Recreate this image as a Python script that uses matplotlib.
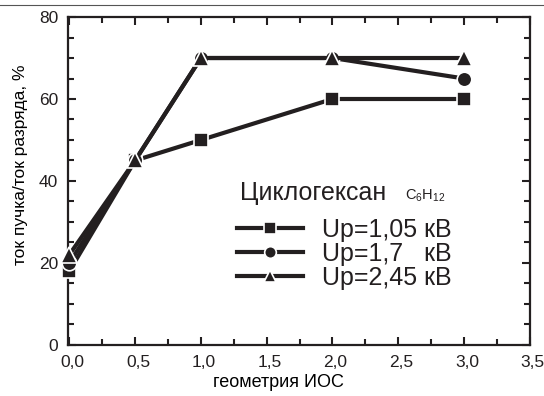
import matplotlib
matplotlib.use("Agg")
import matplotlib.pyplot as plt
from matplotlib.lines import Line2D
from matplotlib.ticker import MultipleLocator, FuncFormatter
from matplotlib.transforms import ScaledTranslation

plt.rcParams['font.family'] = ['Liberation Sans', 'DejaVu Sans']

# геометрия ИОС vs отношение тока пучка к току разряда
geometry = [0.0, 0.5, 1.0, 2.0, 3.0]
ratio_105 = [18, 45, 50, 60, 60]
ratio_17 = [20, 45, 70, 70, 65]
ratio_245 = [22, 45, 70, 70, 70]

labels = ['Up=1,05 кВ', 'Up=1,7   кВ', 'Up=2,45 кВ']
markers = ['s', 'o', '^']
sizes = [10, 10.5, 11.5]
dark = '#231f20'

fig = plt.figure(figsize=(5.44, 3.96), dpi=100)
ax = fig.add_axes([0.125, 0.129, 0.849, 0.828])

handles = []
for ys, m, ms, lab in zip([ratio_105, ratio_17, ratio_245], markers, sizes, labels):
    h, = ax.plot(geometry, ys, color=dark, lw=3.0, marker=m, ms=ms,
                 mfc=dark, mec='white', mew=1.2, label=lab, clip_on=False, zorder=3)
    handles.append(h)

ax.set_xlim(-0.01, 3.5)
ax.set_ylim(0, 80)
ax.xaxis.set_major_locator(MultipleLocator(0.5))
ax.xaxis.set_minor_locator(MultipleLocator(0.25))
ax.yaxis.set_major_locator(MultipleLocator(20))
ax.yaxis.set_minor_locator(MultipleLocator(5))
ax.xaxis.set_major_formatter(FuncFormatter(lambda v, p: f'{v:.1f}'.replace('.', ',')))

ax.tick_params(which='both', direction='in', top=True, right=True, width=1.5, colors=dark)
ax.tick_params(which='major', length=6, labelsize=12.5, pad=7)
ax.tick_params(which='minor', length=4)
for s in ax.spines.values():
    s.set_linewidth(1.6)
    s.set_color(dark)

# подписи делений оси x немного сдвинуты вправо
shift = ScaledTranslation(3 / 100, 0, fig.dpi_scale_trans)
for lbl in ax.get_xticklabels():
    lbl.set_transform(lbl.get_transform() + shift)

ax.set_xlabel('геометрия ИОС', fontsize=13)
ax.xaxis.set_label_coords(0.455, -0.09)
ax.set_ylabel('ток пучка/ток разряда, %', fontsize=12.5)
ax.yaxis.set_label_coords(-0.087, 0.55)

# название вещества над легендой
ax.text(0.372, 0.442, 'Циклогексан', transform=ax.transAxes, fontsize=18, color=dark, va='baseline')
ax.text(0.729, 0.442, r'$\mathregular{C_6H_{12}}$', transform=ax.transAxes, fontsize=10.5, color=dark, va='baseline')

leg = ax.legend(handles=handles, loc='upper left', bbox_to_anchor=(0.366, 0.388),
                frameon=False, fontsize=18, handlelength=2.64, handletextpad=0.76,
                labelspacing=0.01, borderpad=0.0, borderaxespad=0.0, markerscale=0.8)
for t in leg.get_texts():
    t.set_color(dark)

# линия сверху страницы
fig.add_artist(Line2D([0, 1], [0.988, 0.988], transform=fig.transFigure, color='#555555', lw=0.8))

fig.savefig('out.png', dpi=100)
